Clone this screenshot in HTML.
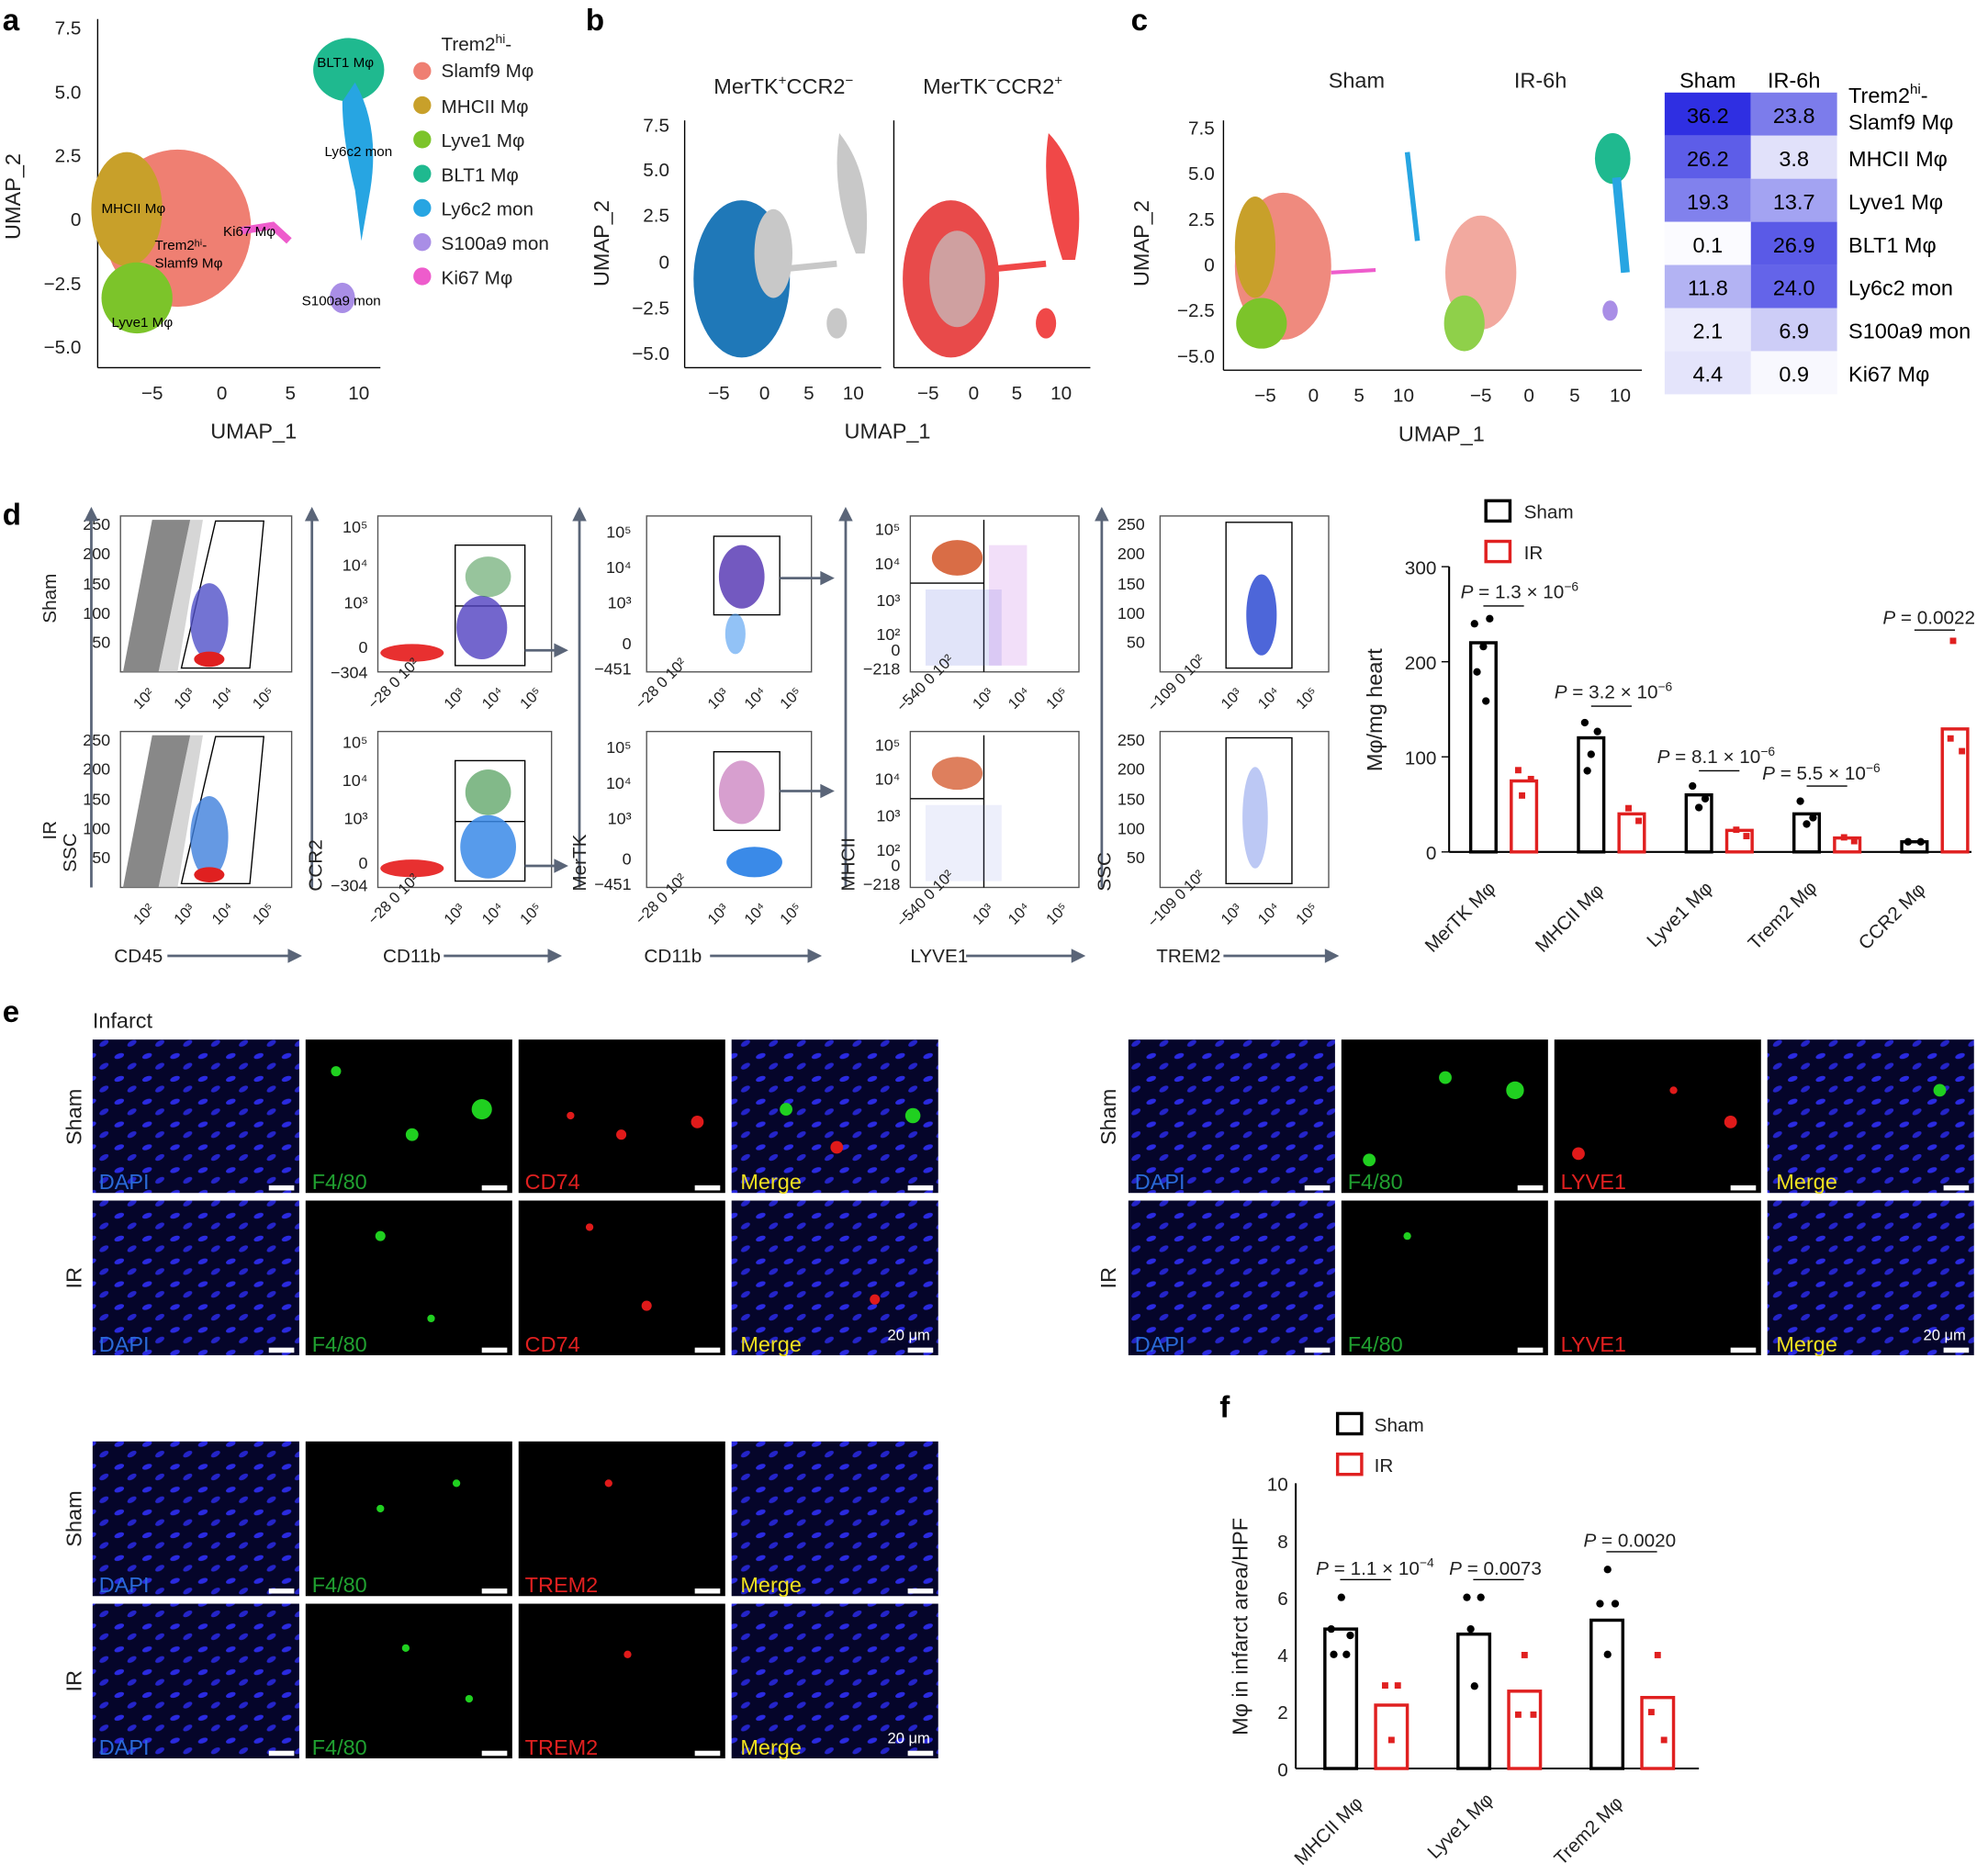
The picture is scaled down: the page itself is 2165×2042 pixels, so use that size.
<!DOCTYPE html>
<html><head><meta charset="utf-8"><style>
html,body{margin:0;padding:0;background:#fff;}
svg{display:block;}
text{font-family:"Liberation Sans",sans-serif;}
</style></head><body>
<svg width="2165" height="2042" viewBox="0 0 1568 1479" xmlns="http://www.w3.org/2000/svg">
<defs>
<pattern id="nuc" width="22" height="18" patternUnits="userSpaceOnUse"><rect width="22" height="18" fill="#05052a"/><ellipse cx="6" cy="5" rx="4" ry="2" fill="#2a2ae0" transform="rotate(-20 6 5)"/><ellipse cx="16" cy="13" rx="4" ry="2" fill="#2424c8" transform="rotate(-30 16 13)"/></pattern>
</defs>
<rect width="1568" height="1479" fill="#fff"/>
<g font-weight="bold" font-size="24" fill="#000">
<text x="2" y="24">a</text><text x="462" y="24">b</text><text x="892" y="24">c</text><text x="2" y="414">d</text><text x="2" y="806">e</text><text x="962" y="1118">f</text></g>

<!-- Panel a -->
<g font-size="15" fill="#222">
<line x1="77" y1="15" x2="77" y2="290" stroke="#000"/><line x1="77" y1="290" x2="300" y2="290" stroke="#000"/>
<text x="64" y="27" text-anchor="end">7.5</text><text x="64" y="78" text-anchor="end">5.0</text><text x="64" y="128" text-anchor="end">2.5</text><text x="64" y="178" text-anchor="end">0</text><text x="64" y="229" text-anchor="end">−2.5</text><text x="64" y="279" text-anchor="end">−5.0</text>
<text x="120" y="315" text-anchor="middle">−5</text><text x="175" y="315" text-anchor="middle">0</text><text x="229" y="315" text-anchor="middle">5</text><text x="283" y="315" text-anchor="middle">10</text>
<text x="200" y="346" text-anchor="middle" font-size="17">UMAP_1</text>
<text transform="translate(16,155) rotate(-90)" text-anchor="middle" font-size="17">UMAP_2</text>
</g>
<ellipse cx="140" cy="180" rx="58" ry="62" fill="#ef7f72"/>
<ellipse cx="100" cy="165" rx="28" ry="45" fill="#c8a02a"/>
<ellipse cx="108" cy="235" rx="28" ry="28" fill="#7cc42a"/>
<path d="M190 182 L215 178 L228 190" stroke="#ee5ccc" stroke-width="6" fill="none"/>
<ellipse cx="275" cy="55" rx="28" ry="25" fill="#1fb98f"/>
<path d="M280 65 Q300 100 292 150 L285 190 L280 150 Q270 110 270 80Z" fill="#27a5e2"/>
<ellipse cx="270" cy="235" rx="10" ry="12" fill="#a98ee6"/>
<g font-size="11" fill="#000"><text x="250" y="53">BLT1 Mφ</text><text x="256" y="123">Ly6c2 mon</text><text x="80" y="168">MHCII Mφ</text><text x="122" y="197">Trem2ʰⁱ-</text><text x="122" y="211">Slamf9 Mφ</text><text x="176" y="186">Ki67 Mφ</text><text x="238" y="241">S100a9 mon</text><text x="88" y="258">Lyve1 Mφ</text></g>
<g font-size="15" fill="#222">
<text x="348" y="40">Trem2<tspan font-size="10" dy="-6">hi</tspan><tspan dy="6">-</tspan></text><text x="348" y="61">Slamf9 Mφ</text>
<circle cx="333" cy="56" r="7" fill="#ef7f72"/><text x="348" y="89">MHCII Mφ</text><circle cx="333" cy="83" r="7" fill="#c8a02a"/>
<text x="348" y="116">Lyve1 Mφ</text><circle cx="333" cy="110" r="7" fill="#7cc42a"/>
<text x="348" y="143">BLT1 Mφ</text><circle cx="333" cy="137" r="7" fill="#1fb98f"/>
<text x="348" y="170">Ly6c2 mon</text><circle cx="333" cy="164" r="7" fill="#27a5e2"/>
<text x="348" y="197">S100a9 mon</text><circle cx="333" cy="191" r="7" fill="#a98ee6"/>
<text x="348" y="224">Ki67 Mφ</text><circle cx="333" cy="218" r="7" fill="#ee5ccc"/>
</g>

<!-- Panel b -->
<g font-size="15" fill="#222">
<line x1="540" y1="95" x2="540" y2="290" stroke="#000"/><line x1="540" y1="290" x2="695" y2="290" stroke="#000"/>
<line x1="705" y1="95" x2="705" y2="290" stroke="#000"/><line x1="705" y1="290" x2="860" y2="290" stroke="#000"/>
<text x="528" y="104" text-anchor="end">7.5</text><text x="528" y="139" text-anchor="end">5.0</text><text x="528" y="175" text-anchor="end">2.5</text><text x="528" y="212" text-anchor="end">0</text><text x="528" y="248" text-anchor="end">−2.5</text><text x="528" y="284" text-anchor="end">−5.0</text>
<text x="567" y="315" text-anchor="middle">−5</text><text x="603" y="315" text-anchor="middle">0</text><text x="638" y="315" text-anchor="middle">5</text><text x="673" y="315" text-anchor="middle">10</text>
<text x="732" y="315" text-anchor="middle">−5</text><text x="768" y="315" text-anchor="middle">0</text><text x="802" y="315" text-anchor="middle">5</text><text x="837" y="315" text-anchor="middle">10</text>
<text x="700" y="346" text-anchor="middle" font-size="17">UMAP_1</text>
<text transform="translate(480,192) rotate(-90)" text-anchor="middle" font-size="17">UMAP_2</text>
<text x="618" y="74" text-anchor="middle" font-size="17">MerTK<tspan font-size="11" dy="-7">+</tspan><tspan dy="7">CCR2</tspan><tspan font-size="11" dy="-7">−</tspan></text>
<text x="783" y="74" text-anchor="middle" font-size="17">MerTK<tspan font-size="11" dy="-7">−</tspan><tspan dy="7">CCR2</tspan><tspan font-size="11" dy="-7">+</tspan></text>
</g>
<ellipse cx="585" cy="220" rx="38" ry="62" fill="#1f78b8"/><ellipse cx="610" cy="200" rx="15" ry="35" fill="#c8c8c8"/>
<path d="M662 105 Q690 140 682 200 L675 200 Q655 150 662 105Z" fill="#c8c8c8"/><ellipse cx="660" cy="255" rx="8" ry="12" fill="#c8c8c8"/><path d="M620 212 L660 208" stroke="#c8c8c8" stroke-width="5"/>
<ellipse cx="750" cy="220" rx="38" ry="62" fill="#e84a4a"/><ellipse cx="755" cy="220" rx="22" ry="38" fill="#c4c4c4" opacity="0.7"/>
<path d="M827 105 Q860 140 848 205 L838 205 Q820 150 827 105Z" fill="#f04848"/><ellipse cx="825" cy="255" rx="8" ry="12" fill="#f04848"/><path d="M785 212 L825 208" stroke="#f04848" stroke-width="5"/>

<!-- Panel c -->
<g font-size="15" fill="#222">
<line x1="965" y1="95" x2="965" y2="292" stroke="#000"/><line x1="965" y1="292" x2="1295" y2="292" stroke="#000"/>
<text x="958" y="106" text-anchor="end">7.5</text><text x="958" y="142" text-anchor="end">5.0</text><text x="958" y="178" text-anchor="end">2.5</text><text x="958" y="214" text-anchor="end">0</text><text x="958" y="250" text-anchor="end">−2.5</text><text x="958" y="286" text-anchor="end">−5.0</text>
<text x="998" y="317" text-anchor="middle">−5</text><text x="1036" y="317" text-anchor="middle">0</text><text x="1072" y="317" text-anchor="middle">5</text><text x="1107" y="317" text-anchor="middle">10</text>
<text x="1168" y="317" text-anchor="middle">−5</text><text x="1206" y="317" text-anchor="middle">0</text><text x="1242" y="317" text-anchor="middle">5</text><text x="1278" y="317" text-anchor="middle">10</text>
<text x="1137" y="348" text-anchor="middle" font-size="17">UMAP_1</text>
<text transform="translate(906,192) rotate(-90)" text-anchor="middle" font-size="17">UMAP_2</text>
<text x="1070" y="69" text-anchor="middle" font-size="17">Sham</text><text x="1215" y="69" text-anchor="middle" font-size="17">IR-6h</text>
</g>
<ellipse cx="1012" cy="210" rx="38" ry="58" fill="#ef8a7e"/><ellipse cx="990" cy="195" rx="16" ry="40" fill="#c8a02a"/><ellipse cx="995" cy="255" rx="20" ry="20" fill="#7cc42a"/>
<path d="M1110 120 L1118 190" stroke="#27a5e2" stroke-width="4"/><path d="M1050 215 L1085 213" stroke="#ee5ccc" stroke-width="3"/>
<ellipse cx="1168" cy="215" rx="28" ry="45" fill="#f2a99f"/><ellipse cx="1155" cy="255" rx="16" ry="22" fill="#8fd04a"/>
<ellipse cx="1272" cy="125" rx="14" ry="20" fill="#1fb98f"/><path d="M1275 140 L1282 215" stroke="#27a5e2" stroke-width="7"/><ellipse cx="1270" cy="245" rx="6" ry="8" fill="#a98ee6"/>
<g font-size="17" text-anchor="middle">
<text x="1347" y="69">Sham</text><text x="1415" y="69">IR-6h</text>
<rect x="1313" y="73" width="68" height="34" fill="#2f2fe2"/><rect x="1381" y="73" width="68" height="34" fill="#7c7ceb"/>
<rect x="1313" y="107" width="68" height="34" fill="#5d5de8"/><rect x="1381" y="107" width="68" height="34" fill="#e1e1fa"/>
<rect x="1313" y="141" width="68" height="34" fill="#8181ed"/><rect x="1381" y="141" width="68" height="34" fill="#a3a3f2"/>
<rect x="1313" y="175" width="68" height="34" fill="#fbfbff"/><rect x="1381" y="175" width="68" height="34" fill="#5a5ae7"/>
<rect x="1313" y="209" width="68" height="34" fill="#b3b3f3"/><rect x="1381" y="209" width="68" height="34" fill="#6464e9"/>
<rect x="1313" y="243" width="68" height="34" fill="#ebebfc"/><rect x="1381" y="243" width="68" height="34" fill="#cdcdf7"/>
<rect x="1313" y="277" width="68" height="34" fill="#e4e4fb"/><rect x="1381" y="277" width="68" height="34" fill="#f8f8fe"/>
<text x="1347" y="97">36.2</text><text x="1415" y="97">23.8</text><text x="1347" y="131">26.2</text><text x="1415" y="131">3.8</text>
<text x="1347" y="165">19.3</text><text x="1415" y="165">13.7</text><text x="1347" y="199">0.1</text><text x="1415" y="199">26.9</text>
<text x="1347" y="233">11.8</text><text x="1415" y="233">24.0</text><text x="1347" y="267">2.1</text><text x="1415" y="267">6.9</text>
<text x="1347" y="301">4.4</text><text x="1415" y="301">0.9</text>
</g>
<g font-size="17"><text x="1458" y="81">Trem2<tspan font-size="11" dy="-7">hi</tspan><tspan dy="7">-</tspan></text><text x="1458" y="102">Slamf9 Mφ</text><text x="1458" y="131">MHCII Mφ</text><text x="1458" y="165">Lyve1 Mφ</text><text x="1458" y="199">BLT1 Mφ</text><text x="1458" y="233">Ly6c2 mon</text><text x="1458" y="267">S100a9 mon</text><text x="1458" y="301">Ki67 Mφ</text></g>

<!-- Panel d flow -->
<g stroke="#555" fill="none" stroke-width="1">
<rect x="95" y="407" width="135" height="123"/><rect x="95" y="577" width="135" height="123"/>
<rect x="298" y="407" width="137" height="123"/><rect x="298" y="577" width="137" height="123"/>
<rect x="510" y="407" width="130" height="123"/><rect x="510" y="577" width="130" height="123"/>
<rect x="718" y="407" width="133" height="123"/><rect x="718" y="577" width="133" height="123"/>
<rect x="915" y="407" width="133" height="123"/><rect x="915" y="577" width="133" height="123"/>
</g>
<g fill="#888"><path d="M97 530 L120 410 L150 410 L125 530Z"/><path d="M97 700 L120 580 L150 580 L125 700Z"/></g>
<g fill="#bbb" opacity="0.6"><path d="M125 530 L150 410 L160 410 L140 530Z"/><path d="M125 700 L150 580 L160 580 L140 700Z"/></g>
<g stroke="#000" fill="none"><path d="M143 527 L170 411 L208 411 L197 527Z"/><path d="M143 697 L170 581 L208 581 L197 697Z"/>
<rect x="359" y="430" width="55" height="95"/><line x1="359" y1="478" x2="414" y2="478"/><rect x="359" y="600" width="55" height="95"/><line x1="359" y1="648" x2="414" y2="648"/>
<rect x="563" y="423" width="52" height="62"/><rect x="563" y="593" width="52" height="62"/>
<path d="M718 460 H776 M776 410 V530"/><path d="M718 630 H776 M776 580 V700"/>
<rect x="967" y="412" width="52" height="115"/><rect x="967" y="582" width="52" height="115"/></g>
<g><ellipse cx="165" cy="490" rx="15" ry="30" fill="#5050c8" opacity="0.8"/><ellipse cx="165" cy="520" rx="12" ry="6" fill="#e02020"/>
<ellipse cx="165" cy="660" rx="15" ry="32" fill="#3f7fdc" opacity="0.8"/><ellipse cx="165" cy="690" rx="12" ry="6" fill="#e02020"/>
<ellipse cx="325" cy="515" rx="25" ry="7" fill="#e83030"/><ellipse cx="380" cy="495" rx="20" ry="25" fill="#5040c0" opacity="0.8"/><ellipse cx="385" cy="455" rx="18" ry="16" fill="#2f8a3a" opacity="0.5"/>
<ellipse cx="325" cy="685" rx="25" ry="7" fill="#e83030"/><ellipse cx="385" cy="668" rx="22" ry="25" fill="#3a8ae8" opacity="0.85"/><ellipse cx="385" cy="625" rx="18" ry="18" fill="#2f8a3a" opacity="0.6"/>
<ellipse cx="585" cy="455" rx="18" ry="25" fill="#5030b0" opacity="0.8"/><ellipse cx="580" cy="500" rx="8" ry="16" fill="#4a9af0" opacity="0.6"/>
<ellipse cx="585" cy="625" rx="18" ry="25" fill="#b040a0" opacity="0.5"/><ellipse cx="595" cy="680" rx="22" ry="12" fill="#3a8ae8"/>
<ellipse cx="755" cy="440" rx="20" ry="14" fill="#d04818" opacity="0.8"/><rect x="730" y="465" width="60" height="60" fill="#6a7ae0" opacity="0.2"/><rect x="780" y="430" width="30" height="95" fill="#c060e0" opacity="0.2"/>
<ellipse cx="755" cy="610" rx="20" ry="13" fill="#d04818" opacity="0.7"/><rect x="730" y="635" width="60" height="60" fill="#6a7ae0" opacity="0.12"/>
<ellipse cx="995" cy="485" rx="12" ry="32" fill="#2040d0" opacity="0.8"/><ellipse cx="990" cy="645" rx="10" ry="40" fill="#4060e0" opacity="0.35"/></g>
<g font-size="13" fill="#222" text-anchor="end">
<text x="87" y="418">250</text><text x="87" y="441">200</text><text x="87" y="465">150</text><text x="87" y="488">100</text><text x="87" y="511">50</text>
<text x="87" y="588">250</text><text x="87" y="611">200</text><text x="87" y="635">150</text><text x="87" y="658">100</text><text x="87" y="681">50</text>
<text x="290" y="420">10⁵</text><text x="290" y="450">10⁴</text><text x="290" y="480">10³</text><text x="290" y="515">0</text><text x="290" y="535">−304</text>
<text x="290" y="590">10⁵</text><text x="290" y="620">10⁴</text><text x="290" y="650">10³</text><text x="290" y="685">0</text><text x="290" y="703">−304</text>
<text x="498" y="424">10⁵</text><text x="498" y="452">10⁴</text><text x="498" y="480">10³</text><text x="498" y="512">0</text><text x="498" y="532">−451</text>
<text x="498" y="594">10⁵</text><text x="498" y="622">10⁴</text><text x="498" y="650">10³</text><text x="498" y="682">0</text><text x="498" y="702">−451</text>
<text x="710" y="422">10⁵</text><text x="710" y="449">10⁴</text><text x="710" y="478">10³</text><text x="710" y="505">10²</text><text x="710" y="517">0</text><text x="710" y="532">−218</text>
<text x="710" y="592">10⁵</text><text x="710" y="619">10⁴</text><text x="710" y="648">10³</text><text x="710" y="675">10²</text><text x="710" y="687">0</text><text x="710" y="702">−218</text>
<text x="903" y="418">250</text><text x="903" y="441">200</text><text x="903" y="465">150</text><text x="903" y="488">100</text><text x="903" y="511">50</text>
<text x="903" y="588">250</text><text x="903" y="611">200</text><text x="903" y="635">150</text><text x="903" y="658">100</text><text x="903" y="681">50</text>
</g>
<g font-size="12" fill="#222">
<text transform="translate(110,560) rotate(-45)">10²</text><text transform="translate(142,560) rotate(-45)">10³</text><text transform="translate(172,560) rotate(-45)">10⁴</text><text transform="translate(204,560) rotate(-45)">10⁵</text>
<text transform="translate(110,730) rotate(-45)">10²</text><text transform="translate(142,730) rotate(-45)">10³</text><text transform="translate(172,730) rotate(-45)">10⁴</text><text transform="translate(204,730) rotate(-45)">10⁵</text>
<text transform="translate(295,560) rotate(-45)">−28 0 10²</text><text transform="translate(355,560) rotate(-45)">10³</text><text transform="translate(385,560) rotate(-45)">10⁴</text><text transform="translate(415,560) rotate(-45)">10⁵</text>
<text transform="translate(295,730) rotate(-45)">−28 0 10²</text><text transform="translate(355,730) rotate(-45)">10³</text><text transform="translate(385,730) rotate(-45)">10⁴</text><text transform="translate(415,730) rotate(-45)">10⁵</text>
<text transform="translate(506,560) rotate(-45)">−28 0 10²</text><text transform="translate(563,560) rotate(-45)">10³</text><text transform="translate(592,560) rotate(-45)">10⁴</text><text transform="translate(620,560) rotate(-45)">10⁵</text>
<text transform="translate(506,730) rotate(-45)">−28 0 10²</text><text transform="translate(563,730) rotate(-45)">10³</text><text transform="translate(592,730) rotate(-45)">10⁴</text><text transform="translate(620,730) rotate(-45)">10⁵</text>
<text transform="translate(712,562) rotate(-45)">−540 0 10²</text><text transform="translate(772,560) rotate(-45)">10³</text><text transform="translate(800,560) rotate(-45)">10⁴</text><text transform="translate(830,560) rotate(-45)">10⁵</text>
<text transform="translate(712,732) rotate(-45)">−540 0 10²</text><text transform="translate(772,730) rotate(-45)">10³</text><text transform="translate(800,730) rotate(-45)">10⁴</text><text transform="translate(830,730) rotate(-45)">10⁵</text>
<text transform="translate(910,562) rotate(-45)">−109 0 10²</text><text transform="translate(968,560) rotate(-45)">10³</text><text transform="translate(997,560) rotate(-45)">10⁴</text><text transform="translate(1027,560) rotate(-45)">10⁵</text>
<text transform="translate(910,732) rotate(-45)">−109 0 10²</text><text transform="translate(968,730) rotate(-45)">10³</text><text transform="translate(997,730) rotate(-45)">10⁴</text><text transform="translate(1027,730) rotate(-45)">10⁵</text>
</g>
<g stroke="#5a6578" stroke-width="2" fill="#5a6578">
<line x1="72" y1="700" x2="72" y2="408"/><path d="M72 402 l-4 8 h8z"/>
<line x1="246" y1="700" x2="246" y2="408"/><path d="M246 402 l-4 8 h8z"/>
<line x1="457" y1="700" x2="457" y2="408"/><path d="M457 402 l-4 8 h8z"/>
<line x1="667" y1="700" x2="667" y2="408"/><path d="M667 402 l-4 8 h8z"/>
<line x1="869" y1="700" x2="869" y2="408"/><path d="M869 402 l-4 8 h8z"/>
<line x1="132" y1="754" x2="230" y2="754"/><path d="M236 754 l-8 -4 v8z"/>
<line x1="350" y1="754" x2="435" y2="754"/><path d="M441 754 l-8 -4 v8z"/>
<line x1="560" y1="754" x2="640" y2="754"/><path d="M646 754 l-8 -4 v8z"/>
<line x1="762" y1="754" x2="848" y2="754"/><path d="M854 754 l-8 -4 v8z"/>
<line x1="965" y1="754" x2="1048" y2="754"/><path d="M1054 754 l-8 -4 v8z"/>
<line x1="414" y1="513" x2="440" y2="513"/><path d="M446 513 l-8 -4 v8z"/><line x1="414" y1="683" x2="440" y2="683"/><path d="M446 683 l-8 -4 v8z"/>
<line x1="615" y1="456" x2="650" y2="456"/><path d="M656 456 l-8 -4 v8z"/><line x1="615" y1="624" x2="650" y2="624"/><path d="M656 624 l-8 -4 v8z"/>
</g>
<g font-size="15" fill="#222">
<text x="90" y="759">CD45</text><text x="302" y="759">CD11b</text><text x="508" y="759">CD11b</text><text x="718" y="759">LYVE1</text><text x="912" y="759">TREM2</text>
<text transform="translate(44,472) rotate(-90)" text-anchor="middle">Sham</text><text transform="translate(44,655) rotate(-90)" text-anchor="middle">IR</text>
<text transform="translate(60,688) rotate(-90)">SSC</text><text transform="translate(254,703) rotate(-90)">CCR2</text><text transform="translate(462,703) rotate(-90)">MerTK</text><text transform="translate(674,703) rotate(-90)">MHCII</text><text transform="translate(876,703) rotate(-90)">SSC</text>
</g>

<!-- d bar chart -->
<g font-size="15" fill="#222">
<rect x="1172" y="395" width="19" height="16" fill="none" stroke="#000" stroke-width="2.5"/><text x="1202" y="409">Sham</text>
<rect x="1172" y="427" width="19" height="16" fill="none" stroke="#e02020" stroke-width="2.5"/><text x="1202" y="441">IR</text>
<line x1="1143" y1="447" x2="1143" y2="672" stroke="#000" stroke-width="1.5"/><line x1="1143" y1="672" x2="1555" y2="672" stroke="#000" stroke-width="1.5"/>
<g stroke="#000"><line x1="1137" y1="447" x2="1143" y2="447"/><line x1="1137" y1="522" x2="1143" y2="522"/><line x1="1137" y1="597" x2="1143" y2="597"/><line x1="1137" y1="672" x2="1143" y2="672"/></g>
<text x="1133" y="453" text-anchor="end">300</text><text x="1133" y="528" text-anchor="end">200</text><text x="1133" y="603" text-anchor="end">100</text><text x="1133" y="678" text-anchor="end">0</text>
<text transform="translate(1090,560) rotate(-90)" text-anchor="middle" font-size="17">Mφ/mg heart</text>
<g fill="#fff" stroke-width="2.5"><rect x="1160" y="507" width="20" height="165" stroke="#000"/><rect x="1192" y="616" width="20" height="56" stroke="#e02020"/>
<rect x="1245" y="582" width="20" height="90" stroke="#000"/><rect x="1277" y="642" width="20" height="30" stroke="#e02020"/>
<rect x="1330" y="627" width="20" height="45" stroke="#000"/><rect x="1362" y="655" width="20" height="17" stroke="#e02020"/>
<rect x="1415" y="642" width="20" height="30" stroke="#000"/><rect x="1447" y="661" width="20" height="11" stroke="#e02020"/>
<rect x="1500" y="664" width="20" height="8" stroke="#000"/><rect x="1532" y="575" width="20" height="97" stroke="#e02020"/></g>
<g fill="#000"><circle cx="1163" cy="492" r="3"/><circle cx="1175" cy="488" r="3"/><circle cx="1170" cy="510" r="3"/><circle cx="1165" cy="530" r="3"/><circle cx="1172" cy="553" r="3"/>
<circle cx="1250" cy="570" r="3"/><circle cx="1260" cy="577" r="3"/><circle cx="1255" cy="595" r="3"/><circle cx="1252" cy="608" r="3"/>
<circle cx="1335" cy="620" r="3"/><circle cx="1345" cy="630" r="3"/><circle cx="1340" cy="637" r="3"/>
<circle cx="1420" cy="632" r="3"/><circle cx="1430" cy="645" r="3"/><circle cx="1425" cy="650" r="3"/><circle cx="1505" cy="664" r="3"/><circle cx="1515" cy="664" r="3"/></g>
<g fill="#e02020"><rect x="1195" y="605" width="5" height="5"/><rect x="1205" y="612" width="5" height="5"/><rect x="1198" y="625" width="5" height="5"/>
<rect x="1282" y="635" width="5" height="5"/><rect x="1290" y="645" width="5" height="5"/><rect x="1367" y="652" width="5" height="5"/><rect x="1375" y="657" width="5" height="5"/>
<rect x="1452" y="658" width="5" height="5"/><rect x="1460" y="661" width="5" height="5"/><rect x="1538" y="503" width="5" height="5"/><rect x="1536" y="580" width="5" height="5"/><rect x="1545" y="590" width="5" height="5"/></g>
<g stroke="#000"><line x1="1170" y1="478" x2="1202" y2="478"/><line x1="1255" y1="557" x2="1287" y2="557"/><line x1="1340" y1="608" x2="1372" y2="608"/><line x1="1425" y1="620" x2="1457" y2="620"/><line x1="1510" y1="497" x2="1542" y2="497"/></g>
<text x="1152" y="472"><tspan font-style="italic">P</tspan> = 1.3 × 10<tspan font-size="10" dy="-6">−6</tspan></text>
<text x="1226" y="551"><tspan font-style="italic">P</tspan> = 3.2 × 10<tspan font-size="10" dy="-6">−6</tspan></text>
<text x="1307" y="602"><tspan font-style="italic">P</tspan> = 8.1 × 10<tspan font-size="10" dy="-6">−6</tspan></text>
<text x="1390" y="615"><tspan font-style="italic">P</tspan> = 5.5 × 10<tspan font-size="10" dy="-6">−6</tspan></text>
<text x="1485" y="492"><tspan font-style="italic">P</tspan> = 0.0022</text>
<text transform="translate(1130,752) rotate(-45)">MerTK Mφ</text><text transform="translate(1217,752) rotate(-45)">MHCII Mφ</text><text transform="translate(1305,748) rotate(-45)">Lyve1 Mφ</text><text transform="translate(1385,750) rotate(-45)">Trem2 Mφ</text><text transform="translate(1472,750) rotate(-45)">CCR2 Mφ</text>
</g>

<!-- Panel e images -->
<g fill="#000">
<rect x="241" y="820" width="163" height="121"/><rect x="409" y="820" width="163" height="121"/>
<rect x="241" y="947" width="163" height="122"/><rect x="409" y="947" width="163" height="122"/>
<rect x="1058" y="820" width="163" height="121"/><rect x="1226" y="820" width="163" height="121"/>
<rect x="1058" y="947" width="163" height="122"/><rect x="1226" y="947" width="163" height="122"/>
<rect x="241" y="1137" width="163" height="122"/><rect x="409" y="1137" width="163" height="122"/>
<rect x="241" y="1265" width="163" height="122"/><rect x="409" y="1265" width="163" height="122"/>
</g>
<g fill="url(#nuc)">
<rect x="73" y="820" width="163" height="121"/><rect x="577" y="820" width="163" height="121"/><rect x="73" y="947" width="163" height="122"/><rect x="577" y="947" width="163" height="122"/>
<rect x="890" y="820" width="163" height="121"/><rect x="1394" y="820" width="163" height="121"/><rect x="890" y="947" width="163" height="122"/><rect x="1394" y="947" width="163" height="122"/>
<rect x="73" y="1137" width="163" height="122"/><rect x="577" y="1137" width="163" height="122"/><rect x="73" y="1265" width="163" height="122"/><rect x="577" y="1265" width="163" height="122"/>
</g>
<g fill="#20d020"><circle cx="380" cy="875" r="8"/><circle cx="325" cy="895" r="5"/><circle cx="265" cy="845" r="4"/><circle cx="300" cy="975" r="4"/><circle cx="340" cy="1040" r="3"/>
<circle cx="1195" cy="860" r="7"/><circle cx="1140" cy="850" r="5"/><circle cx="1080" cy="915" r="5"/><circle cx="1110" cy="975" r="3"/>
<circle cx="360" cy="1170" r="3"/><circle cx="300" cy="1190" r="3"/><circle cx="320" cy="1300" r="3"/><circle cx="370" cy="1340" r="3"/>
<circle cx="720" cy="880" r="6"/><circle cx="620" cy="875" r="5"/><circle cx="1530" cy="860" r="5"/></g>
<g fill="#e01a1a"><circle cx="550" cy="885" r="5"/><circle cx="490" cy="895" r="4"/><circle cx="450" cy="880" r="3"/><circle cx="510" cy="1030" r="4"/><circle cx="465" cy="968" r="3"/>
<circle cx="1365" cy="885" r="5"/><circle cx="1245" cy="910" r="5"/><circle cx="1320" cy="860" r="3"/><circle cx="480" cy="1170" r="3"/><circle cx="495" cy="1305" r="3"/><circle cx="660" cy="905" r="5"/><circle cx="690" cy="1025" r="4"/></g>
<g font-size="17">
<text x="78" y="938" fill="#2a6ad8">DAPI</text><text x="246" y="938" fill="#20a030">F4/80</text><text x="414" y="938" fill="#e02020">CD74</text><text x="584" y="938" fill="#f0e020">Merge</text>
<text x="78" y="1066" fill="#2a6ad8">DAPI</text><text x="246" y="1066" fill="#20a030">F4/80</text><text x="414" y="1066" fill="#e02020">CD74</text><text x="584" y="1066" fill="#f0e020">Merge</text>
<text x="895" y="938" fill="#2a6ad8">DAPI</text><text x="1063" y="938" fill="#20a030">F4/80</text><text x="1231" y="938" fill="#e02020">LYVE1</text><text x="1401" y="938" fill="#f0e020">Merge</text>
<text x="895" y="1066" fill="#2a6ad8">DAPI</text><text x="1063" y="1066" fill="#20a030">F4/80</text><text x="1231" y="1066" fill="#e02020">LYVE1</text><text x="1401" y="1066" fill="#f0e020">Merge</text>
<text x="78" y="1256" fill="#2a6ad8">DAPI</text><text x="246" y="1256" fill="#20a030">F4/80</text><text x="414" y="1256" fill="#e02020">TREM2</text><text x="584" y="1256" fill="#f0e020">Merge</text>
<text x="78" y="1384" fill="#2a6ad8">DAPI</text><text x="246" y="1384" fill="#20a030">F4/80</text><text x="414" y="1384" fill="#e02020">TREM2</text><text x="584" y="1384" fill="#f0e020">Merge</text>
</g>
<g fill="#fff"><rect x="212" y="935" width="20" height="4"/><rect x="380" y="935" width="20" height="4"/><rect x="548" y="935" width="20" height="4"/><rect x="716" y="935" width="20" height="4"/>
<rect x="212" y="1063" width="20" height="4"/><rect x="380" y="1063" width="20" height="4"/><rect x="548" y="1063" width="20" height="4"/><rect x="716" y="1063" width="20" height="4"/>
<rect x="1029" y="935" width="20" height="4"/><rect x="1197" y="935" width="20" height="4"/><rect x="1365" y="935" width="20" height="4"/><rect x="1533" y="935" width="20" height="4"/>
<rect x="1029" y="1063" width="20" height="4"/><rect x="1197" y="1063" width="20" height="4"/><rect x="1365" y="1063" width="20" height="4"/><rect x="1533" y="1063" width="20" height="4"/>
<rect x="212" y="1253" width="20" height="4"/><rect x="380" y="1253" width="20" height="4"/><rect x="548" y="1253" width="20" height="4"/><rect x="716" y="1253" width="20" height="4"/>
<rect x="212" y="1381" width="20" height="4"/><rect x="380" y="1381" width="20" height="4"/><rect x="548" y="1381" width="20" height="4"/><rect x="716" y="1381" width="20" height="4"/>
<text x="700" y="1057" font-size="12">20 μm</text><text x="1517" y="1057" font-size="12">20 μm</text><text x="700" y="1375" font-size="12">20 μm</text></g>
<g font-size="17" fill="#222"><text x="73" y="811">Infarct</text>
<text transform="translate(64,881) rotate(-90)" text-anchor="middle">Sham</text><text transform="translate(64,1008) rotate(-90)" text-anchor="middle">IR</text>
<text transform="translate(880,881) rotate(-90)" text-anchor="middle">Sham</text><text transform="translate(880,1008) rotate(-90)" text-anchor="middle">IR</text>
<text transform="translate(64,1198) rotate(-90)" text-anchor="middle">Sham</text><text transform="translate(64,1326) rotate(-90)" text-anchor="middle">IR</text></g>

<!-- Panel f -->
<g font-size="15" fill="#222">
<rect x="1055" y="1115" width="19" height="16" fill="none" stroke="#000" stroke-width="2.5"/><text x="1084" y="1129">Sham</text>
<rect x="1055" y="1147" width="19" height="16" fill="none" stroke="#e02020" stroke-width="2.5"/><text x="1084" y="1161">IR</text>
<line x1="1022" y1="1170" x2="1022" y2="1395" stroke="#000" stroke-width="1.5"/><line x1="1022" y1="1395" x2="1340" y2="1395" stroke="#000" stroke-width="1.5"/>
<text x="1016" y="1176" text-anchor="end">10</text><text x="1016" y="1221" text-anchor="end">8</text><text x="1016" y="1266" text-anchor="end">6</text><text x="1016" y="1311" text-anchor="end">4</text><text x="1016" y="1356" text-anchor="end">2</text><text x="1016" y="1401" text-anchor="end">0</text>
<text transform="translate(984,1283) rotate(-90)" text-anchor="middle" font-size="17">Mφ in infarct area/HPF</text>
<g fill="#fff" stroke-width="2.5"><rect x="1045" y="1285" width="25" height="110" stroke="#000"/><rect x="1085" y="1345" width="25" height="50" stroke="#e02020"/>
<rect x="1150" y="1289" width="25" height="106" stroke="#000"/><rect x="1190" y="1334" width="25" height="61" stroke="#e02020"/>
<rect x="1255" y="1278" width="25" height="117" stroke="#000"/><rect x="1295" y="1339" width="25" height="56" stroke="#e02020"/></g>
<g fill="#000"><circle cx="1058" cy="1260" r="3"/><circle cx="1050" cy="1285" r="3"/><circle cx="1065" cy="1290" r="3"/><circle cx="1052" cy="1305" r="3"/><circle cx="1062" cy="1305" r="3"/>
<circle cx="1157" cy="1260" r="3"/><circle cx="1168" cy="1260" r="3"/><circle cx="1160" cy="1285" r="3"/><circle cx="1163" cy="1330" r="3"/>
<circle cx="1268" cy="1238" r="3"/><circle cx="1262" cy="1265" r="3"/><circle cx="1274" cy="1265" r="3"/><circle cx="1268" cy="1305" r="3"/></g>
<g fill="#e02020"><rect x="1090" y="1327" width="5" height="5"/><rect x="1100" y="1327" width="5" height="5"/><rect x="1095" y="1370" width="5" height="5"/>
<rect x="1200" y="1303" width="5" height="5"/><rect x="1195" y="1350" width="5" height="5"/><rect x="1207" y="1350" width="5" height="5"/>
<rect x="1305" y="1303" width="5" height="5"/><rect x="1300" y="1348" width="5" height="5"/><rect x="1310" y="1370" width="5" height="5"/></g>
<g stroke="#000"><line x1="1057" y1="1246" x2="1097" y2="1246"/><line x1="1162" y1="1246" x2="1202" y2="1246"/><line x1="1267" y1="1224" x2="1307" y2="1224"/></g>
<text x="1038" y="1242"><tspan font-style="italic">P</tspan> = 1.1 × 10<tspan font-size="10" dy="-6">−4</tspan></text>
<text x="1143" y="1242"><tspan font-style="italic">P</tspan> = 0.0073</text><text x="1249" y="1220"><tspan font-style="italic">P</tspan> = 0.0020</text>
<text transform="translate(1027,1472) rotate(-45)">MHCII Mφ</text><text transform="translate(1132,1467) rotate(-45)">Lyve1 Mφ</text><text transform="translate(1232,1472) rotate(-45)">Trem2 Mφ</text>
</g>
</svg>
</body></html>
